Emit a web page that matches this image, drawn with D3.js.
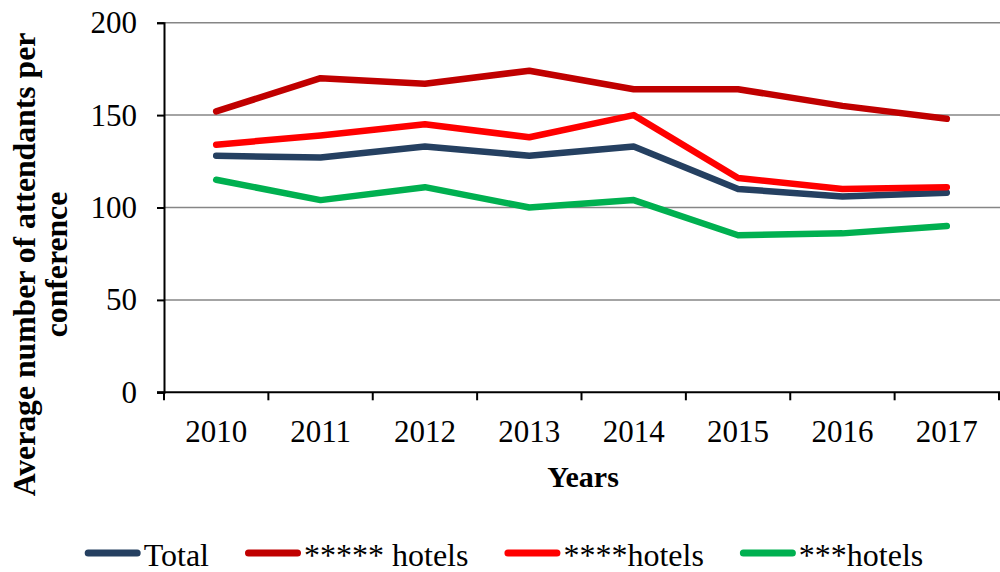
<!doctype html>
<html lang="en">
<head>
<meta charset="utf-8">
<title>Average number of attendants per conference</title>
<script src="https://cdn.jsdelivr.net/npm/d3@7"></script>
<style>
  body { margin: 0; background: #fff; }
  svg text { font-family: "Liberation Serif", "Times New Roman", serif; fill: #000; }
</style>
</head>
<body>
<svg id="chart" width="1000" height="572"></svg>
<script>
// data
var years = ["2010", "2011", "2012", "2013", "2014", "2015", "2016", "2017"];
var total = [128, 127, 133, 128, 133, 110, 106, 108];
var fiveStar = [152, 170, 167, 174, 164, 164, 155, 148];
var fourStar = [134, 139, 145, 138, 150, 116, 110, 111];
var threeStar = [115, 104, 111, 100, 104, 85, 86, 90];
var yTicks = [0, 50, 100, 150, 200];

var series = [
  { name: "Total", values: total, color: "#254061" },
  { name: "***** hotels", values: fiveStar, color: "#C00000" },
  { name: "****hotels", values: fourStar, color: "#FF0000" },
  { name: "***hotels", values: threeStar, color: "#00B050" }
];

var svg = d3.select("#chart");
var plotLeft = 164, plotRight = 999, plotTop = 22.7, plotBottom = 392.3;

var x = d3.scaleBand().domain(years).range([plotLeft, plotRight]);
var y = d3.scaleLinear().domain([0, 200]).range([plotBottom, plotTop]);

// gridlines
svg.append("g")
  .selectAll("line")
  .data(yTicks.filter(function(d) { return d > 0; }))
  .enter().append("line")
    .attr("x1", plotLeft).attr("x2", 1000)
    .attr("y1", function(d) { return y(d); })
    .attr("y2", function(d) { return y(d); })
    .attr("stroke", "#868686")
    .attr("stroke-width", 1.5);

// y axis
var yAxis = svg.append("g")
  .attr("transform", "translate(" + plotLeft + ",0)")
  .call(d3.axisLeft(y).tickValues(yTicks).tickSize(7).tickPadding(20));
yAxis.attr("font-family", null);
yAxis.select(".domain").attr("stroke", "#000").attr("stroke-width", 2);
yAxis.selectAll(".tick line").attr("stroke", "#000").attr("stroke-width", 2);
yAxis.selectAll(".tick text").style("font-size", "31px");

// x axis, ticks on band edges
var xAxis = svg.append("g")
  .attr("transform", "translate(0," + plotBottom + ")");
xAxis.append("line")
  .attr("x1", plotLeft - 7).attr("x2", 1000)
  .attr("stroke", "#000").attr("stroke-width", 2);
var edges = years.map(function(d) { return x(d); }).concat([plotRight]);
xAxis.selectAll("line.edge")
  .data(edges).enter().append("line")
    .attr("class", "edge")
    .attr("x1", function(d) { return d; }).attr("x2", function(d) { return d; })
    .attr("y1", 0).attr("y2", 8)
    .attr("stroke", "#000").attr("stroke-width", 2);
xAxis.selectAll("text")
  .data(years).enter().append("text")
    .attr("x", function(d) { return x(d) + x.bandwidth() / 2; })
    .attr("y", 49.5)
    .attr("text-anchor", "middle")
    .style("font-size", "31px")
    .text(function(d) { return d; });

// lines
var line = d3.line()
  .x(function(d, i) { return x(years[i]) + x.bandwidth() / 2; })
  .y(function(d) { return y(d); });

svg.append("g")
  .selectAll("path")
  .data(series)
  .enter().append("path")
    .attr("d", function(s) { return line(s.values); })
    .attr("fill", "none")
    .attr("stroke", function(s) { return s.color; })
    .attr("stroke-width", 6.5)
    .attr("stroke-linejoin", "round")
    .attr("stroke-linecap", "round");

// axis titles
svg.append("text")
  .attr("x", 583).attr("y", 487)
  .attr("text-anchor", "middle")
  .style("font-size", "30px").style("font-weight", "bold")
  .text("Years");

var yTitle = svg.append("text")
  .attr("transform", "translate(35,264.5) rotate(-90)")
  .attr("text-anchor", "middle")
  .style("font-size", "31.7px").style("font-weight", "bold");
yTitle.append("tspan").attr("x", 0).attr("y", 0).text("Average number of attendants per");
yTitle.append("tspan").attr("x", 0).attr("y", 32).text("conference");

// legend
var legend = svg.append("g");
var lx = 0;
series.forEach(function(s) {
  var g = legend.append("g").attr("transform", "translate(" + lx + ",0)");
  g.append("line")
    .attr("x1", 3.5).attr("x2", 52.5)
    .attr("y1", 553).attr("y2", 553)
    .attr("stroke", s.color).attr("stroke-width", 7)
    .attr("stroke-linecap", "round");
  var t = g.append("text")
    .attr("x", 59).attr("y", 566)
    .style("font-size", "32px")
    .text(s.name);
  lx += 59 + t.node().getComputedTextLength() + 36;
});
var legendWidth = lx - 36;
legend.attr("transform", "translate(" + (504 - legendWidth / 2) + ",0)");
</script>
</body>
</html>
